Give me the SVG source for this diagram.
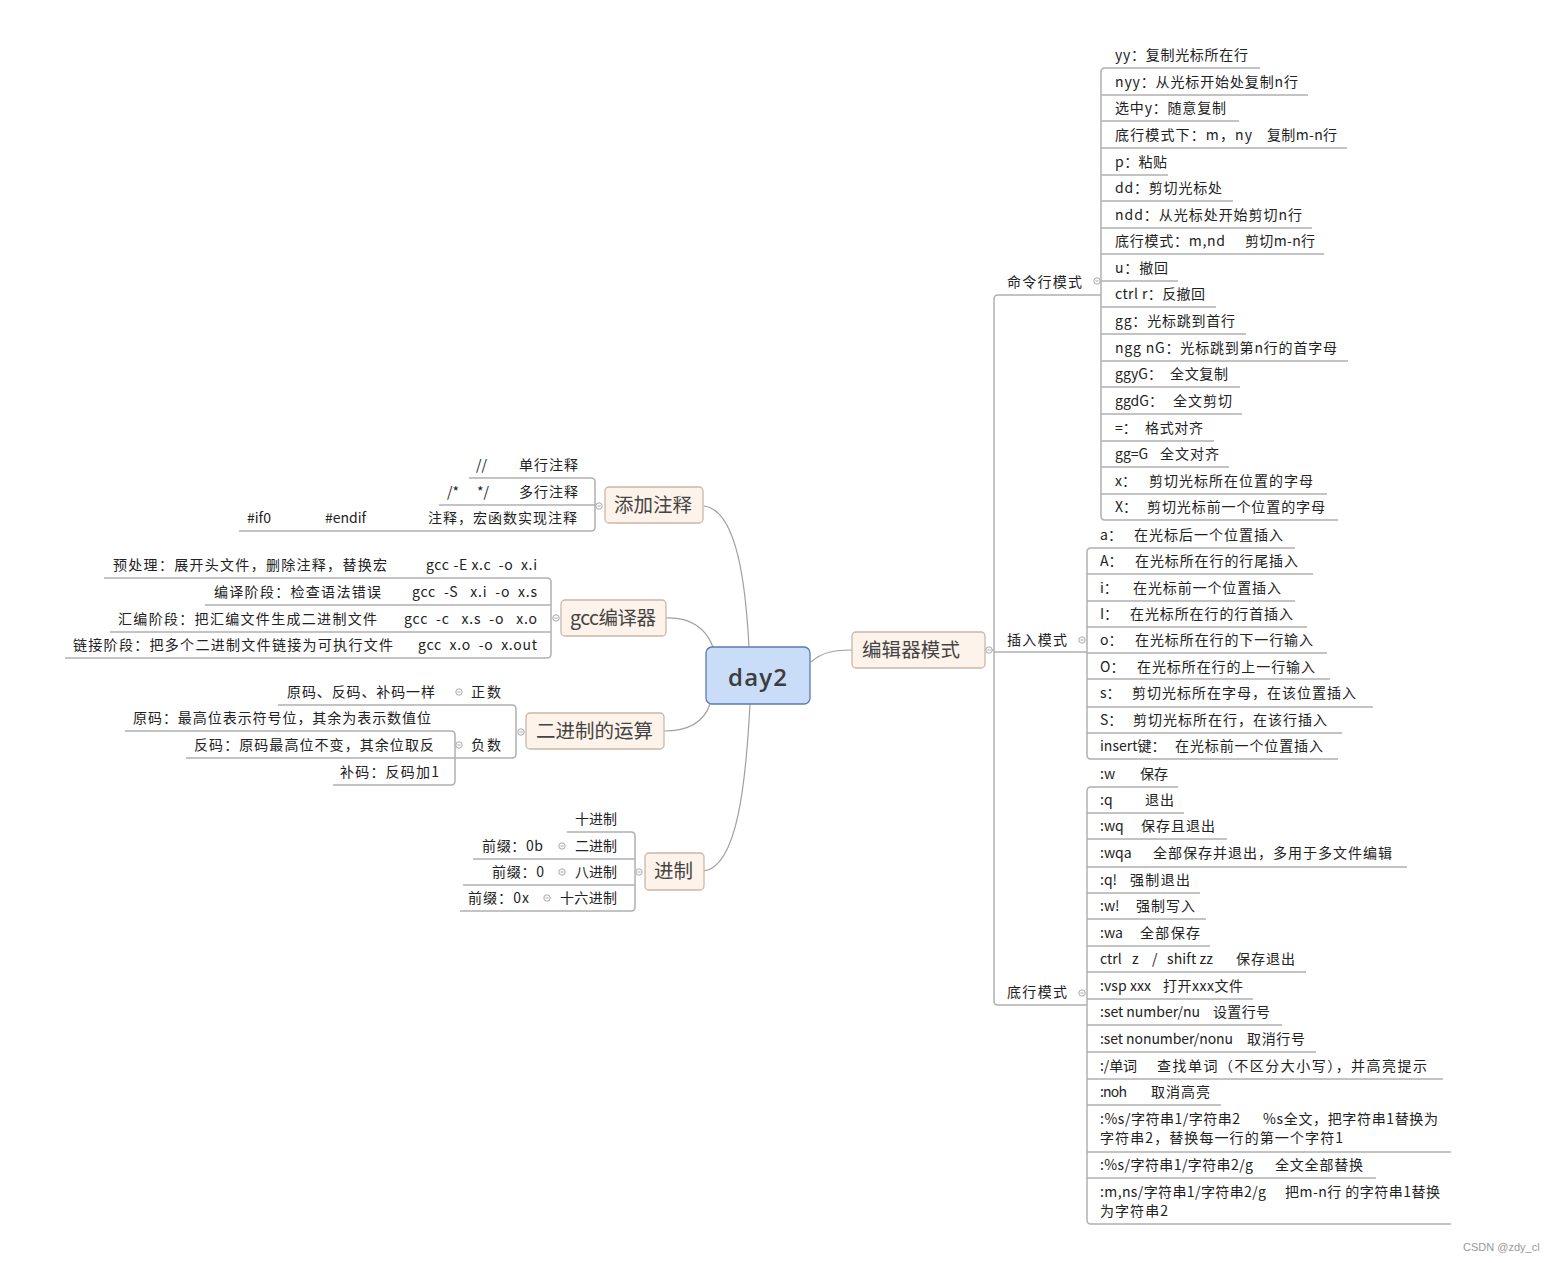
<svg xmlns="http://www.w3.org/2000/svg" width="1552" height="1263" viewBox="0 0 1552 1263">
<style>
text{font-family:"Noto Sans CJK SC","Noto Sans",sans-serif;font-size:14px;fill:#222;white-space:pre}
.tt{font-size:19.5px;fill:#444}
.ln{stroke:#b0b0b0;stroke-width:1.5;fill:none}
.cv{stroke:#a0a0a0;stroke-width:1.2;fill:none}
.topic{fill:#fdf3ea;stroke:#c8b8a8;stroke-width:1.3}
.cir{fill:#fff;stroke:#a8a8a8;stroke-width:1}
.wm{font-family:"Liberation Sans",sans-serif;font-size:11px;fill:#999}
</style>
<defs>
<g id="col"><circle class="cir" r="3.2"/><line x1="-1.6" y1="0" x2="1.6" y2="0" stroke="#a8a8a8" stroke-width="1"/></g>
</defs>
<rect width="1552" height="1263" fill="#fff"/>

<g id="connectors">
<!-- curves from center -->
<path class="cv" d="M704,506 C738,510 746,590 749,647"/>
<path class="cv" d="M666,618 C690,617 706,628 713,647"/>
<path class="cv" d="M664,731 C688,731 704,722 710,704"/>
<path class="cv" d="M704,871 C738,866 746,780 750,704"/>
<path class="cv" d="M811,662 C822,652 835,650 852,650"/>
<!-- 添加注释 -->
<path class="ln" d="M469,478 H591 Q595,478 595,482 V527 Q595,531 591,531 H239"/>
<path class="ln" d="M439,505 H595"/>
<!-- gcc -->
<path class="ln" d="M104,578 H547 Q551,578 551,582 V654 Q551,658 547,658 H65"/>
<path class="ln" d="M205,605 H551 M110,632 H551"/>
<!-- 二进制 -->
<path class="ln" d="M278,705 H512 Q516,705 516,709 V754 Q516,758 512,758 H186"/>
<path class="ln" d="M125,731 H451 Q455,731 455,735 V781 Q455,785 451,785 H333"/>
<!-- 进制 -->
<path class="ln" d="M567,832 H631 Q635,832 635,836 V907 Q635,911 631,911 H460"/>
<path class="ln" d="M473,859 H635 M463,885 H635"/>
<!-- 编辑器模式 -->
<path class="ln" d="M985,650 H994"/>
<path class="ln" d="M1101,295 H998 Q994,295 994,299 V1001 Q994,1005 998,1005 H1087"/>
<path class="ln" d="M994,652 H1087"/>
<!-- command bracket -->
<path class="ln" d="M1260,68 H1105 Q1101,68 1101,72 V516 Q1101,520 1105,520 H1338"/>
<path class="ln" d="M1101,95 H1308 M1101,121 H1239 M1101,148 H1347 M1101,175 H1168 M1101,201 H1233 M1101,228 H1312 M1101,254 H1324 M1101,281 H1178 M1101,307 H1216 M1101,334 H1246 M1101,361 H1348 M1101,387 H1240 M1101,414 H1242 M1101,441 H1214 M1101,467 H1229 M1101,494 H1327"/>
<!-- insert bracket -->
<path class="ln" d="M1295,548 H1091 Q1087,548 1087,552 V755 Q1087,759 1091,759 H1338"/>
<path class="ln" d="M1087,574 H1313 M1087,601 H1295 M1087,627 H1307 M1087,653 H1327 M1087,679 H1330 M1087,707 H1373 M1087,733 H1342"/>
<!-- bottom bracket -->
<path class="ln" d="M1178,787 H1091 Q1087,787 1087,791 V1220 Q1087,1224 1091,1224 H1451"/>
<path class="ln" d="M1087,813 H1184 M1087,839 H1227 M1087,867 H1407 M1087,893 H1200 M1087,919 H1206 M1087,946 H1210 M1087,972 H1306 M1087,999 H1253 M1087,1025 H1282 M1087,1052 H1316 M1087,1079 H1443 M1087,1105 H1221 M1087,1152 H1451 M1087,1178 H1376"/>
<!-- collapse circles -->
<use href="#col" x="599" y="506"/>
<use href="#col" x="556" y="618"/>
<use href="#col" x="521" y="732"/>
<use href="#col" x="459" y="692"/>
<use href="#col" x="459" y="745"/>
<use href="#col" x="639" y="872"/>
<use href="#col" x="562" y="846"/>
<use href="#col" x="562" y="872"/>
<use href="#col" x="547" y="898"/>
<use href="#col" x="989" y="650"/>
<use href="#col" x="1097" y="281"/>
<use href="#col" x="1082" y="640"/>
<use href="#col" x="1082" y="993"/>
</g>

<g id="day2">
<rect x="706" y="647" width="104" height="57" rx="6" fill="#c9ddf8" stroke="#5b7ab0" stroke-width="1.3"/>
<text x="728" y="686" style="font-family:'Open Sans','Noto Sans',sans-serif;font-size:24px;font-weight:600;fill:#3d3d3d" textLength="59">day2</text>
</g>

<g id="n-comment">
<rect class="topic" x="605" y="487" width="98" height="36" rx="4"/>
<text class="tt" x="614" y="512" textLength="78">添加注释</text>
<text x="476" y="470">//</text><text x="519" y="470" textLength="59">单行注释</text>
<text x="447" y="497">/*</text><text x="477" y="497">*/</text><text x="519" y="497" textLength="59">多行注释</text>
<text x="247" y="523">#if0</text><text x="325" y="523">#endif</text><text x="428" y="523" textLength="149">注释，宏函数实现注释</text>
</g>

<g id="n-gcc">
<rect class="topic" x="561" y="600" width="105" height="36" rx="4"/>
<text class="tt" x="570" y="625" textLength="86">gcc编译器</text>
<text x="113" y="570" textLength="274">预处理：展开头文件，删除注释，替换宏</text>
<text x="426" y="570" textLength="111">gcc -E x.c  -o  x.i</text>
<text x="214" y="597" textLength="167">编译阶段：检查语法错误</text>
<text x="412" y="597" textLength="125">gcc  -S   x.i  -o  x.s</text>
<text x="118" y="624" textLength="259">汇编阶段：把汇编文件生成二进制文件</text>
<text x="404" y="624" textLength="133">gcc  -c   x.s  -o   x.o</text>
<text x="73" y="650" textLength="320">链接阶段：把多个二进制文件链接为可执行文件</text>
<text x="418" y="650" textLength="119">gcc  x.o  -o  x.out</text>
</g>

<g id="n-binary">
<rect class="topic" x="526" y="713" width="138" height="36" rx="4"/>
<text class="tt" x="536" y="738" textLength="117">二进制的运算</text>
<text x="287" y="697" textLength="148">原码、反码、补码一样</text>
<text x="471" y="697" textLength="30">正数</text>
<text x="133" y="723" textLength="298">原码：最高位表示符号位，其余为表示数值位</text>
<text x="194" y="750" textLength="240">反码：原码最高位不变，其余位取反</text>
<text x="471" y="750" textLength="30">负数</text>
<text x="340" y="777" textLength="99">补码：反码加1</text>
</g>

<g id="n-base">
<rect class="topic" x="645" y="853" width="59" height="37" rx="4"/>
<text class="tt" x="654" y="878" textLength="39">进制</text>
<text x="575" y="824" textLength="42">十进制</text>
<text x="482" y="851" textLength="61">前缀：0b</text><text x="575" y="851" textLength="42">二进制</text>
<text x="492" y="877" textLength="52">前缀：0</text><text x="575" y="877" textLength="42">八进制</text>
<text x="468" y="903" textLength="61">前缀：0x</text><text x="560" y="903" textLength="57">十六进制</text>
</g>

<g id="n-editor">
<rect class="topic" x="852" y="632" width="133" height="36" rx="4"/>
<text class="tt" x="862" y="657" textLength="98">编辑器模式</text>
</g>

<g id="n-cmd">
<text x="1007" y="287" textLength="75">命令行模式</text>
<text x="1115" y="60" textLength="133">yy：复制光标所在行</text>
<text x="1115" y="87" textLength="183">nyy：从光标开始处复制n行</text>
<text x="1115" y="113" textLength="111">选中y：随意复制</text>
<text x="1115" y="140" textLength="137">底行模式下：m，ny</text><text x="1267" y="140" textLength="70">复制m-n行</text>
<text x="1115" y="167" textLength="52">p：粘贴</text>
<text x="1115" y="193" textLength="107">dd：剪切光标处</text>
<text x="1115" y="220" textLength="187">ndd：从光标处开始剪切n行</text>
<text x="1115" y="246" textLength="110">底行模式：m,nd</text><text x="1245" y="246" textLength="70">剪切m-n行</text>
<text x="1115" y="273" textLength="53">u：撤回</text>
<text x="1115" y="299" textLength="90">ctrl r：反撤回</text>
<text x="1115" y="326" textLength="120">gg：光标跳到首行</text>
<text x="1115" y="353" textLength="222">ngg nG：光标跳到第n行的首字母</text>
<text x="1115" y="379">ggyG：</text><text x="1170" y="379" textLength="58">全文复制</text>
<text x="1115" y="406">ggdG：</text><text x="1173" y="406" textLength="59">全文剪切</text>
<text x="1115" y="433">=：</text><text x="1145" y="433" textLength="58">格式对齐</text>
<text x="1115" y="459">gg=G</text><text x="1160" y="459" textLength="59">全文对齐</text>
<text x="1115" y="486">x：</text><text x="1149" y="486" textLength="164">剪切光标所在位置的字母</text>
<text x="1115" y="512">X：</text><text x="1147" y="512" textLength="178">剪切光标前一个位置的字母</text>
</g>

<g id="n-insert">
<text x="1007" y="645" textLength="60">插入模式</text>
<text x="1100" y="540">a：</text><text x="1134" y="540" textLength="149">在光标后一个位置插入</text>
<text x="1100" y="566">A：</text><text x="1135" y="566" textLength="163">在光标所在行的行尾插入</text>
<text x="1100" y="593">i：</text><text x="1133" y="593" textLength="148">在光标前一个位置插入</text>
<text x="1100" y="619">I：</text><text x="1130" y="619" textLength="163">在光标所在行的行首插入</text>
<text x="1100" y="645">o：</text><text x="1135" y="645" textLength="178">在光标所在行的下一行输入</text>
<text x="1100" y="672">O：</text><text x="1137" y="672" textLength="178">在光标所在行的上一行输入</text>
<text x="1100" y="698">s：</text><text x="1132" y="698" textLength="224">剪切光标所在字母，在该位置插入</text>
<text x="1100" y="725">S：</text><text x="1133" y="725" textLength="194">剪切光标所在行，在该行插入</text>
<text x="1100" y="751">insert键：</text><text x="1175" y="751" textLength="148">在光标前一个位置插入</text>
</g>

<g id="n-bottom">
<text x="1007" y="997" textLength="60">底行模式</text>
<text x="1100" y="779">:w</text><text x="1140" y="779" textLength="28">保存</text>
<text x="1100" y="805">:q</text><text x="1145" y="805" textLength="29">退出</text>
<text x="1100" y="831">:wq</text><text x="1141" y="831" textLength="74">保存且退出</text>
<text x="1100" y="858">:wqa</text><text x="1153" y="858" textLength="239">全部保存并退出，多用于多文件编辑</text>
<text x="1100" y="885">:q!</text><text x="1130" y="885" textLength="60">强制退出</text>
<text x="1100" y="911">:w!</text><text x="1136" y="911" textLength="59">强制写入</text>
<text x="1100" y="938">:wa</text><text x="1140" y="938" textLength="60">全部保存</text>
<text x="1100" y="964">ctrl</text><text x="1132" y="964">z</text><text x="1152" y="964">/</text><text x="1167" y="964" textLength="46">shift zz</text><text x="1236" y="964" textLength="59">保存退出</text>
<text x="1100" y="991" textLength="51">:vsp xxx</text><text x="1163" y="991" textLength="80">打开xxx文件</text>
<text x="1100" y="1017" textLength="100">:set number/nu</text><text x="1213" y="1017" textLength="57">设置行号</text>
<text x="1100" y="1044" textLength="133">:set nonumber/nonu</text><text x="1247" y="1044" textLength="58">取消行号</text>
<text x="1100" y="1071" textLength="37">:/单词</text><text x="1157" y="1071" textLength="270">查找单词（不区分大小写），并高亮提示</text>
<text x="1100" y="1097" textLength="27">:noh</text><text x="1151" y="1097" textLength="59">取消高亮</text>
<text x="1100" y="1124" textLength="140">:%s/字符串1/字符串2</text><text x="1263" y="1124" textLength="175">%s全文，把字符串1替换为</text>
<text x="1100" y="1143" textLength="243">字符串2，替换每一行的第一个字符1</text>
<text x="1100" y="1170" textLength="153">:%s/字符串1/字符串2/g</text><text x="1275" y="1170" textLength="88">全文全部替换</text>
<text x="1100" y="1197" textLength="166">:m,ns/字符串1/字符串2/g</text><text x="1285" y="1197" textLength="155">把m-n行 的字符串1替换</text>
<text x="1100" y="1216" textLength="68">为字符串2</text>
</g>

<text class="wm" x="1463" y="1251">CSDN @zdy_cl</text>
</svg>
